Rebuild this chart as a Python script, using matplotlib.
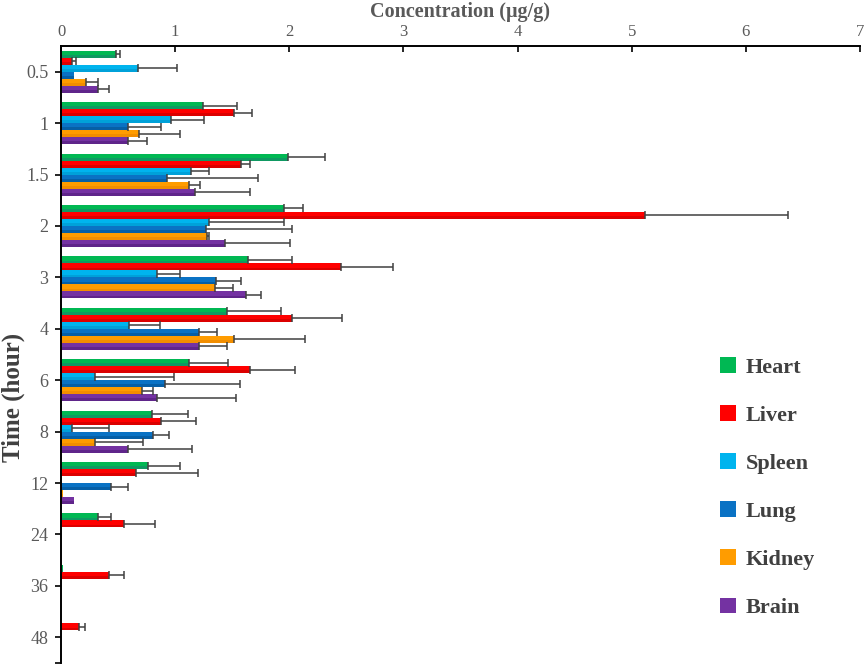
import numpy as np
import matplotlib
matplotlib.use("Agg")
import matplotlib.pyplot as plt
from matplotlib.patches import Patch

# -------------------------------
# Data
# -------------------------------
times = ["0.5", "1", "1.5", "2", "3", "4", "6", "8", "12", "24", "36", "48"]
organs = ["Heart", "Liver", "Spleen", "Lung", "Kidney", "Brain"]

heart = [0.48, 1.24, 1.99, 1.95, 1.64, 1.45, 1.12, 0.80, 0.76, 0.32, 0.02, 0.0]
heart_sd = [0.04, 0.30, 0.32, 0.17, 0.38, 0.48, 0.34, 0.31, 0.28, 0.12, 0.0, 0.0]
liver = [0.10, 1.52, 1.58, 5.12, 2.45, 2.02, 1.66, 0.88, 0.66, 0.55, 0.42, 0.16]
liver_sd = [0.03, 0.155, 0.08, 1.25, 0.46, 0.44, 0.39, 0.30, 0.54, 0.27, 0.13, 0.05]
spleen = [0.675, 0.96, 1.14, 1.30, 0.84, 0.60, 0.30, 0.10, 0.0, 0.0, 0.0, 0.0]
spleen_sd = [0.345, 0.29, 0.16, 0.65, 0.20, 0.27, 0.69, 0.32, 0.0, 0.0, 0.0, 0.0]
lung = [0.11, 0.59, 0.93, 1.27, 1.36, 1.205, 0.91, 0.81, 0.44, 0.0, 0.0, 0.0]
lung_sd = [0.0, 0.29, 0.80, 0.75, 0.22, 0.16, 0.66, 0.14, 0.15, 0.0, 0.0, 0.0]
kidney = [0.22, 0.685, 1.12, 1.28, 1.345, 1.52, 0.71, 0.30, 0.02, 0.0, 0.0, 0.0]
kidney_sd = [0.10, 0.355, 0.10, 0.02, 0.165, 0.62, 0.10, 0.42, 0.0, 0.0, 0.0, 0.0]
brain = [0.325, 0.585, 1.17, 1.44, 1.62, 1.21, 0.84, 0.59, 0.11, 0.0, 0.0, 0.0]
brain_sd = [0.095, 0.17, 0.49, 0.57, 0.13, 0.24, 0.69, 0.56, 0.0, 0.0, 0.0, 0.0]

means = [heart, liver, spleen, lung, kidney, brain]
sds = [heart_sd, liver_sd, spleen_sd, lung_sd, kidney_sd, brain_sd]

# top / bottom shades (bars have a light-to-dark gradient)
colors = ["#00B853", "#FF0000", "#00B4EE", "#0A72C4", "#FF9C00", "#7432A2"]
shades = ["#1C8070", "#C00000", "#0092C8", "#04518E", "#E88400", "#4F1C78"]

# -------------------------------
# Plot setup
# -------------------------------
plt.rcParams["font.family"] = ["Liberation Serif", "DejaVu Serif"]

fig = plt.figure(figsize=(8.65, 6.67), dpi=100)
ax = fig.add_axes([61 / 865, 4 / 667, 799 / 865, 617 / 667])

y = np.arange(len(times))
h = 0.136

for i, (name, vals, sd) in enumerate(zip(organs, means, sds)):
    pos = y + (i - 2.5) * h
    vals = np.array(vals)
    sd = np.array(sd)
    ax.barh(pos, vals, height=h, color=colors[i], label=name, zorder=2)
    # darker lower part to mimic the gradient fill
    ax.barh(pos + h * 0.3, vals, height=h * 0.4, color=shades[i],
            alpha=0.55, linewidth=0, zorder=2)
    m = sd > 0
    ax.errorbar(vals[m], pos[m], xerr=[np.zeros(m.sum()), sd[m]],
                fmt="none", ecolor="#404040", elinewidth=1.1,
                capsize=3, capthick=1.1, zorder=3)

ax.set_xlim(0, 7)
ax.set_ylim(len(times) - 0.5, -0.5)

ax.xaxis.tick_top()
ax.xaxis.set_label_position("top")
ax.set_xticks(range(8))
ax.set_yticks(y)
ax.set_yticklabels(times)
ax.set_yticks([len(times) - 0.5], minor=True)

ax.tick_params(axis="x", direction="in", length=4, width=1.2,
               labelsize=12, labelcolor="#595959", pad=4)
ax.tick_params(axis="y", which="both", direction="out", length=4, width=1.2,
               labelsize=13, labelcolor="#595959", pad=5)

for side in ["right", "bottom"]:
    ax.spines[side].set_visible(False)
for side in ["top", "left"]:
    ax.spines[side].set_linewidth(1.4)

ax.set_xlabel("Concentration (μg/g)", fontsize=14.5, fontweight="bold",
              color="#595959")
ax.xaxis.set_label_coords(0.5, 1.0 + 28.5 / 617)
ax.set_ylabel("Time (hour)", fontsize=18, fontweight="bold", color="#404040")
ax.yaxis.set_label_coords(-0.045, 0.43)

handles = [Patch(facecolor=c) for c in colors]
ax.legend(handles, organs, loc="upper left",
          bbox_to_anchor=(700 / 865, 1 - 337 / 667),
          bbox_transform=fig.transFigure, frameon=False,
          prop={"size": 16, "weight": "bold"}, labelcolor="#404040",
          handlelength=0.7, handleheight=0.7, handletextpad=0.45,
          labelspacing=1.24)

fig.savefig("out.png", dpi=100)
